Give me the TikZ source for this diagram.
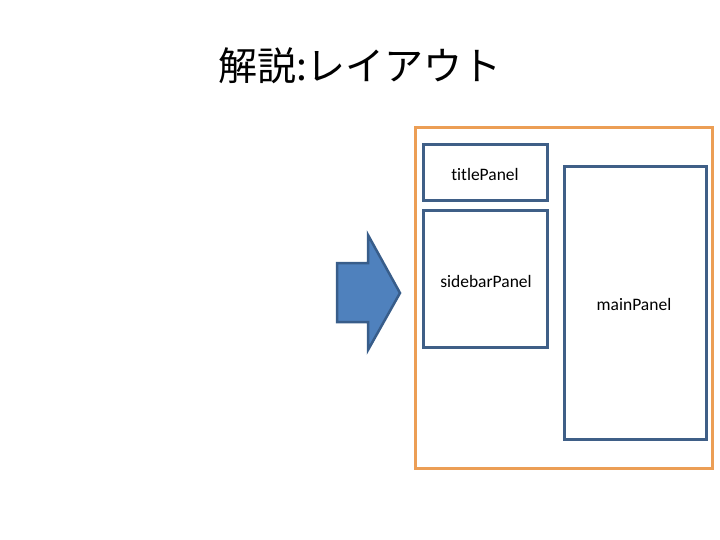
\documentclass[tikz,border=0pt]{standalone}
\usepackage{fontspec}
\setmainfont[Ligatures={NoCommon,NoRare,NoContextual}]{Carlito}
\newfontfamily\jpfont{Noto Sans CJK JP}
\definecolor{panelblue}{HTML}{3F5F87}
\definecolor{arrowfill}{HTML}{4F81BD}
\definecolor{arrowline}{HTML}{385D8A}
\definecolor{frameorange}{HTML}{EC9E55}
\begin{document}
\begin{tikzpicture}[x=1pt,y=-1pt,
  panel/.style={draw=panelblue,line width=3pt,fill=white},
  lbl/.style={font=\fontsize{17.5}{19}\selectfont,inner sep=0pt}]
\useasboundingbox (0,0) rectangle (720,540);
\node[font=\jpfont\fontsize{39}{42}\selectfont,anchor=center] (title) at (360,66) {解説:レイアウト};
% arrow
\draw[fill=arrowfill,draw=arrowline,line width=2.5pt,line join=miter]
  (337,263) -- (368,263) -- (368,235) -- (400,293) -- (368,350) -- (368,322) -- (337,322) -- cycle;
% frame
\draw[draw=frameorange,line width=3pt] (415,128) rectangle (712,468);
\draw[panel] (423,145) rectangle (547,201);
\draw[panel] (423,211) rectangle (547,347);
\draw[panel] (564,167) rectangle (706,439);
\node[lbl] (tp) at (485,174) {titlePanel};
\node[lbl] (sp) at (486,281) {sidebarPanel};
\node[lbl] (mp) at (634,304) {mainPanel};
\end{tikzpicture}
\end{document}
